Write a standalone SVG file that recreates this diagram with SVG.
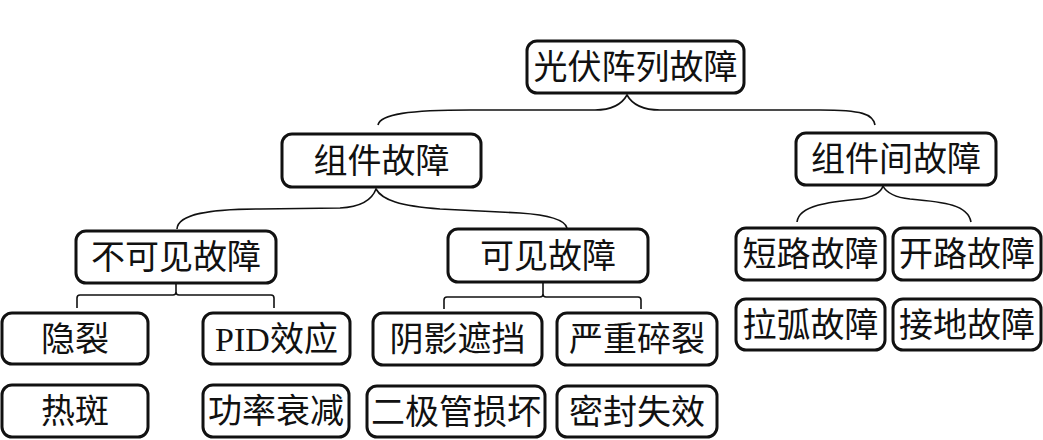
<svg xmlns="http://www.w3.org/2000/svg" width="1043" height="440" viewBox="0 0 1043 440">
<style>
.box{fill:#fff;stroke:#111;stroke-width:3}
.t{font-family:"Liberation Serif","Noto Sans CJK SC",serif;font-size:34px;fill:#111;text-anchor:middle}
.c{fill:none;stroke:#111;stroke-width:1.6}
</style>
<rect width="1043" height="440" fill="#fff"/>
<g id="connectors">
<path class="c" d="M378,125 C380,114 410,110 470,110 L595,110 C612,110 622,104 627,95 C632,104 642,110 660,110 L820,110 C862,110 873,114 875,125"/>
<path class="c" d="M177,229 C178,214 210,209 260,209 L340,208 C360,207 372,200 376,189 C382,200 400,206 440,209 L520,213 C550,215 565,220 567,228"/>
<path class="c" d="M797,222 C799,205 830,202 860,199 C874,197 881,192 883,186 C886,192 892,197 910,199 C945,202 968,205 971,222"/>
<path class="c" d="M176,284 L176,292 Q176,295 173,295 L80,295 Q77,295 77,298 L77,308 M176,292 Q176,295 179,295 L271,295 Q274,295 274,298 L274,308"/>
<path class="c" d="M543,283 L543,294 Q543,297 540,297 L447,297 Q444,297 444,300 L444,309 M543,294 Q543,297 546,297 L638,297 Q641,297 641,300 L641,309"/>
</g>
<g id="n-root"><rect class="box" x="527" y="41" width="217" height="52" rx="10"/><text class="t" x="635.5" y="79">光伏阵列故障</text></g>
<g id="n-zujian"><rect class="box" x="282" y="134" width="199" height="53" rx="10"/><text class="t" x="381.5" y="173">组件故障</text></g>
<g id="n-zujianjian"><rect class="box" x="796" y="133" width="200" height="52" rx="10"/><text class="t" x="896" y="171">组件间故障</text></g>
<g id="n-bukejian"><rect class="box" x="76" y="231" width="200" height="52" rx="10"/><text class="t" x="176" y="269">不可见故障</text></g>
<g id="n-kejian"><rect class="box" x="448" y="229" width="200" height="53" rx="10"/><text class="t" x="548" y="268">可见故障</text></g>
<g id="n-yinlie"><rect class="box" x="2" y="313" width="146" height="51" rx="10"/><text class="t" x="75" y="351">隐裂</text></g>
<g id="n-pid"><rect class="box" x="203" y="313" width="147" height="51" rx="10"/><text class="t" x="276.5" y="351">PID效应</text></g>
<g id="n-reban"><rect class="box" x="2" y="385" width="146" height="52" rx="10"/><text class="t" x="75" y="423">热斑</text></g>
<g id="n-gonglv"><rect class="box" x="203" y="385" width="146" height="52" rx="10"/><text class="t" x="276" y="423">功率衰减</text></g>
<g id="n-yinying"><rect class="box" x="373" y="313" width="169" height="52" rx="10"/><text class="t" x="457.5" y="351">阴影遮挡</text></g>
<g id="n-yanzhong"><rect class="box" x="557" y="313" width="160" height="52" rx="10"/><text class="t" x="637" y="351">严重碎裂</text></g>
<g id="n-erjiguan"><rect class="box" x="367" y="386" width="178" height="51" rx="10"/><text class="t" x="456" y="424">二极管损坏</text></g>
<g id="n-mifeng"><rect class="box" x="557" y="386" width="160" height="51" rx="10"/><text class="t" x="637" y="424">密封失效</text></g>
<g id="n-duanlu"><rect class="box" x="736" y="228" width="149" height="52" rx="10"/><text class="t" x="810.5" y="266">短路故障</text></g>
<g id="n-kailu"><rect class="box" x="893" y="228" width="148" height="52" rx="10"/><text class="t" x="967" y="266">开路故障</text></g>
<g id="n-lahu"><rect class="box" x="736" y="299" width="149" height="51" rx="10"/><text class="t" x="810.5" y="337">拉弧故障</text></g>
<g id="n-jiedi"><rect class="box" x="893" y="299" width="148" height="51" rx="10"/><text class="t" x="967" y="337">接地故障</text></g>
</svg>
